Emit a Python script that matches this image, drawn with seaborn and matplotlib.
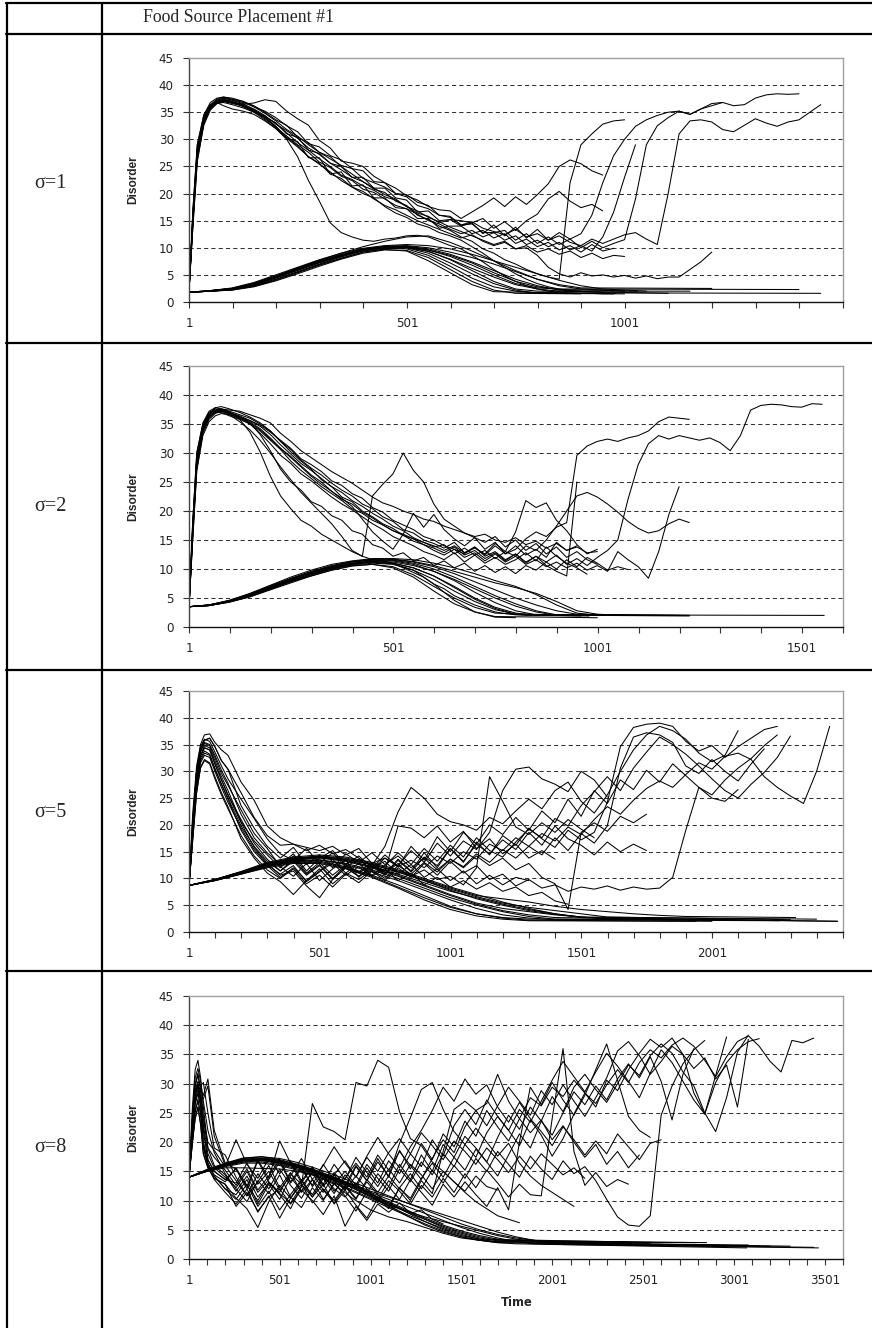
import matplotlib
matplotlib.use("Agg")
import matplotlib.pyplot as plt
import pandas as pd
import seaborn as sns
from matplotlib.lines import Line2D

# ---------------- DATA ----------------
TITLE = "Food Source Placement #1"
ROW_LABELS = ["σ=1", "σ=2", "σ=5", "σ=8"]
X_MAX = [1501, 1601, 2501, 3601]
Y_TICKS = [0, 5, 10, 15, 20, 25, 30, 35, 40, 45]
X_LABEL = "Time"
Y_LABEL = "Disorder"

# ---- panel 1 (sigma = 1) ----
PEAK_T1 = [1, 10, 20, 35, 50, 65, 80, 100] + list(range(125, 1476, 25))
PEAK_Y1 = [
    [2.0, 16, 28, 34, 36.3, 37.0, 37.2, 36.8,
     36.5, 36.7, 37.3, 37.0, 35.2, 33.8, 32.6, 29.8, 28.4, 26.0,
     25.6, 25.0, 23.2, 22.0, 21.0, 19.6, 18.8, 17.6, 17.0, 16.8,
     15.4, 16.6, 17.8, 19.2, 17.6, 19.4, 18.0, 19.8, 21.8, 25.0,
     26.2, 25.5, 24.2, 23.4],
    [2.0, 15, 27, 33.5, 36, 37.2, 37.6, 37.3,
     36.8, 36.0, 35.2, 34.0, 32.5, 31.4, 29.2, 28.6, 27.0, 26.2,
     24.6, 24.2, 22.2, 22.0, 20.0, 19.8, 18.4, 17.8, 16.0, 15.8,
     14.2, 14.4, 12.8, 12.8, 13.2, 11.4, 12.6, 10.8, 12.0, 10.6,
     11.6, 10.0, 11.2, 10.0, 10.8, 11.5, 19.0, 29.0, 32.5, 34.0,
     35.2, 34.6, 35.6, 36.6, 36.8, 36.2, 36.4, 37.6, 38.2, 38.4, 38.3, 38.4],
    [2.0, 17, 29, 34.5, 36.8, 37.6, 37.8, 37.4,
     37.0, 36.2, 35.0, 33.6, 32.6, 30.4, 29.4, 27.6, 26.4, 25.2,
     24.6, 22.8, 22.0, 21.2, 20.0, 19.4, 17.8, 17.2, 16.0, 15.6,
     14.2, 14.8, 13.6, 13.0, 12.4, 13.4, 12.0, 12.6, 11.4, 12.2,
     11.0, 10.4, 11.6, 10.8, 11.6, 12.4, 12.8, 11.6, 10.6, 20.0,
     31.0, 33.4, 33.6, 33.2, 31.8, 31.4, 32.6, 33.8, 33.0, 32.4, 33.2, 33.6, 35.0, 36.4],
    [2.0, 14, 26, 33, 35.8, 36.8, 37.0, 36.6,
     36.2, 35.4, 34.2, 33.0, 31.0, 30.4, 28.0, 27.4, 25.6, 25.0,
     23.0, 23.0, 21.0, 21.0, 19.2, 18.8, 16.6, 16.8, 15.0, 15.2,
     15.0, 14.6, 12.6, 14.2, 12.2, 13.8, 11.8, 13.4, 11.4, 12.8,
     11.6, 12.6, 16.0, 22.0, 27.0, 30.0, 32.4, 33.6, 34.4, 35.0,
     35.2, 34.6, 35.6, 36.2, 36.8],
    [2.0, 16, 28, 34, 36.4, 37.4, 37.8, 37.6,
     37.0, 36.0, 34.8, 33.4, 31.8, 30.6, 29.0, 27.6, 26.8, 25.0,
     23.6, 22.2, 20.8, 20.2, 18.6, 17.8, 16.0, 15.2, 14.0, 13.2,
     12.0, 11.2, 9.8, 9.0, 7.8, 7.0, 6.0, 5.2, 4.6, 4.2,
     22.0, 29.0, 31.0, 32.8, 33.4, 33.6],
    [2.0, 15, 27, 33, 35.6, 36.6, 36.8, 36.4,
     35.8, 35.0, 34.2, 33.0, 31.2, 29.4, 28.0, 26.4, 25.0, 23.4,
     22.6, 21.4, 20.6, 19.4, 18.8, 17.6, 16.4, 15.8, 14.6, 15.2,
     14.0, 14.6, 15.4, 13.6, 14.8, 13.2, 15.0, 16.2, 19.0, 20.4,
     18.6, 17.4, 18.0, 16.8],
    [2.0, 17, 29, 34.5, 36.4, 36.8, 36.2, 35.6,
     35.2, 34.6, 33.4, 32.0, 30.0, 26.8, 22.4, 18.6, 14.6, 12.8,
     12.0, 11.4, 11.2, 11.6, 11.8, 12.2, 12.3, 12.0, 11.2, 10.4,
     9.8, 8.6, 7.4, 6.0, 4.8, 3.8, 3.0, 2.4, 2.0, 1.8,
     1.7, 1.6, 1.6, 1.5, 1.5],
    [2.0, 15, 27, 33.4, 35.8, 36.8, 37.2, 37.0,
     36.4, 35.6, 34.4, 32.8, 31.6, 30.2, 28.4, 27.2, 25.6, 24.4,
     23.0, 22.2, 21.0, 19.8, 19.0, 17.6, 16.8, 15.6, 14.8, 13.8,
     13.0, 12.2, 11.4, 10.6, 11.2, 9.8, 10.0, 8.6, 6.4, 5.2,
     4.6, 5.4, 4.8, 5.0, 4.6, 4.9, 4.4, 4.8, 4.3, 4.6,
     4.6, 6.0, 7.4, 9.2],
    [2.0, 16, 28, 33.8, 36.0, 37.0, 37.4, 37.0,
     36.2, 35.2, 33.8, 32.4, 30.2, 29.6, 26.6, 26.6, 23.6, 24.0,
     21.4, 21.6, 19.2, 19.2, 17.4, 17.2, 15.4, 15.4, 13.6, 14.0,
     14.0, 12.6, 13.2, 11.8, 12.6, 10.8, 11.6, 10.2, 11.0, 9.6,
     10.4, 9.2, 10.6, 9.4, 9.9],
    [2.0, 14, 26, 32.6, 35.4, 36.6, 37.0, 36.8,
     36.0, 35.2, 34.0, 32.2, 30.6, 29.0, 27.6, 25.8, 24.8, 23.2,
     22.4, 20.8, 20.2, 19.0, 17.8, 17.2, 16.2, 15.0, 14.4, 13.4,
     12.6, 13.2, 12.0, 12.8, 11.4, 12.2, 10.6, 11.4, 10.2, 11.0,
     9.6, 10.4, 9.4, 12.0, 16.6, 23.0, 29.0],
    [2.0, 15, 27, 33, 35.8, 36.8, 37.2, 36.8,
     36.2, 35.0, 33.6, 32.0, 30.2, 28.6, 26.8, 25.6, 23.6, 22.8,
     21.2, 20.4, 19.0, 17.8, 17.0, 16.0, 15.0, 14.2, 13.4, 12.6,
     11.8, 12.4, 11.2, 10.4, 11.0, 9.8, 10.4, 9.2, 9.8, 8.8,
     9.4, 8.2, 9.0, 8.0, 8.6, 8.4],
    [2.0, 16, 28, 34, 36.2, 37.2, 37.6, 37.2,
     36.6, 35.4, 34.2, 32.4, 30.4, 28.8, 26.8, 25.4, 24.0, 22.4,
     21.2, 20.0, 19.2, 17.6, 16.4, 15.6, 14.4, 13.8, 12.8, 12.2,
     11.4, 10.2, 9.0, 7.6, 6.4, 5.2, 4.2, 3.4, 2.8, 2.4, 2.1, 2.0],
]
HUMP_T1 = [1, 50, 100, 150, 200, 250, 300, 350, 400, 450, 500,
           550, 600, 650, 700, 750, 800, 850, 900, 950, 1000]
HUMP_Y1 = [
    [1.8, 2.0, 2.3, 3.0, 4.2, 5.6, 7.0, 8.3, 9.4, 9.9, 9.8, 8.6, 6.6, 4.4, 2.8, 2.0, 1.7],
    [1.8, 2.0, 2.4, 3.2, 4.6, 6.0, 7.4, 8.6, 9.6, 10.1, 10.2, 9.6, 8.4, 6.8, 5.0, 3.4, 2.6, 2.4],
    [1.8, 2.1, 2.5, 3.4, 4.8, 6.2, 7.6, 8.8, 9.8, 10.3, 10.4, 10.0, 9.2, 8.2, 7.0, 5.6, 4.2, 3.2, 2.6],
    [1.8, 2.0, 2.2, 2.9, 4.0, 5.4, 6.8, 8.0, 9.2, 9.8, 10.0, 9.4, 7.8, 5.8, 3.8, 2.4, 2.0],
    [1.8, 2.1, 2.6, 3.6, 5.0, 6.4, 7.8, 9.0, 9.9, 10.4, 10.6, 10.4, 9.8, 8.8, 7.6, 6.4, 5.2, 4.0, 3.0, 2.4],
    [1.8, 2.0, 2.3, 3.1, 4.4, 5.8, 7.2, 8.4, 9.5, 10.0, 10.0, 9.0, 7.2, 5.2, 3.4, 2.2, 1.6],
    [1.8, 2.0, 2.4, 3.3, 4.6, 6.0, 7.3, 8.5, 9.6, 10.2, 10.3, 9.8, 8.8, 7.4, 5.8, 4.2, 3.0, 2.2],
    [1.8, 2.0, 2.2, 2.8, 3.9, 5.2, 6.6, 7.9, 9.0, 9.6, 9.5, 8.2, 6.0, 3.8, 2.2, 1.6],
    [1.8, 2.1, 2.5, 3.4, 4.7, 6.1, 7.5, 8.7, 9.7, 10.2, 10.2, 9.6, 8.6, 7.2, 5.4, 3.8, 2.8, 2.3],
    [1.8, 2.0, 2.3, 3.0, 4.2, 5.5, 6.9, 8.1, 9.2, 9.7, 9.4, 7.6, 5.4, 3.2, 1.9],
    [1.8, 2.0, 2.4, 3.2, 4.5, 5.9, 7.3, 8.6, 9.6, 10.1, 10.1, 9.3, 7.9, 6.2, 4.6, 3.2, 2.4, 2.0],
    [1.8, 2.1, 2.5, 3.5, 4.8, 6.3, 7.7, 9.0, 10.2, 11.2, 12.0, 12.2, 11.0, 9.4, 7.6, 5.8, 4.2, 3.0, 2.4],
]
HUMP_END1 = [(1450, 1.6), (1400, 2.3), (1200, 2.5), (1150, 2.0), (1050, 2.0), (1000, 1.5),
              (980, 1.6), (900, 1.5), (1030, 2.0), (850, 1.7), (1100, 1.6), (1000, 2.0)]

# ---- panel 2 (sigma = 2) ----
PEAK_T2 = [1, 10, 20, 35, 50, 65, 80, 100] + list(range(125, 1576, 25))
PEAK_Y2 = [
    [3.5, 18, 30, 35, 37, 37.6, 37.4, 36.8,
     36.2, 35.6, 34.8, 33.6, 32.2, 30.8, 29.0, 28.0, 26.8, 25.2,
     24.4, 23.0, 22.2, 20.6, 19.8, 18.4, 17.6, 16.8, 15.6, 15.0,
     14.0, 13.4, 12.6, 13.8, 12.2, 13.0, 11.6, 12.6, 11.0, 12.2,
     11.2, 12.4, 10.8, 11.8, 10.6, 12.0, 13.2, 15.0, 22.0, 28.0,
     31.6, 33.0, 32.4, 33.0, 32.6, 32.2, 32.6, 31.8, 30.4, 33.0,
     37.4, 38.2, 38.4, 38.3, 38.0, 37.9, 38.5, 38.4],
    [3.5, 17, 29, 34.6, 36.6, 37.4, 37.6, 37.2,
     36.6, 36.0, 35.0, 33.8, 32.0, 30.6, 28.8, 27.4, 26.2, 24.8,
     23.6, 22.6, 21.2, 20.4, 19.0, 18.2, 16.8, 16.2, 15.0, 14.4,
     13.6, 14.6, 12.8, 13.8, 12.4, 14.0, 12.6, 13.4, 15.2, 16.4,
     15.6, 17.2, 18.0, 29.6, 31.2, 32.0, 32.4, 32.0, 32.6, 33.0,
     33.8, 35.4, 36.2, 36.0, 35.8],
    [3.5, 16, 28, 34, 36.2, 37.0, 37.2, 36.8,
     36.0, 35.2, 34.0, 32.4, 30.8, 29.2, 27.6, 26.0, 24.6, 23.4,
     22.0, 21.2, 19.8, 18.8, 17.6, 16.6, 15.8, 14.8, 14.2, 13.2,
     12.4, 13.4, 12.0, 12.8, 11.4, 12.6, 11.2, 12.2, 10.8, 11.6,
     10.4, 11.2, 10.2, 11.0, 9.8, 10.6, 9.6, 13.0, 11.6, 10.4,
     8.4, 13.0, 19.4, 24.2],
    [3.5, 17, 29, 34.4, 36.4, 37.2, 37.4, 37.0,
     36.4, 35.6, 34.6, 33.2, 31.4, 29.8, 28.2, 27.0, 25.6, 24.2,
     23.2, 21.8, 20.8, 19.6, 18.6, 17.4, 16.6, 15.4, 14.6, 13.8,
     14.2, 12.6, 13.6, 12.4, 13.2, 11.8, 13.0, 12.2, 14.0, 13.2,
     15.0, 17.4, 20.0, 22.6, 23.2, 22.4, 21.2, 19.8, 18.2, 17.0,
     16.2, 16.6, 17.8, 18.6, 18.0],
    [3.5, 15, 27, 33.4, 35.8, 36.8, 37.2, 37.0,
     36.2, 35.0, 33.4, 31.6, 29.6, 28.2, 26.4, 25.2, 23.8, 22.4,
     21.2, 20.2, 19.0, 17.8, 16.8, 15.6, 14.8, 14.0, 13.0, 12.4,
     11.6, 12.8, 11.2, 12.4, 11.0, 12.0, 10.8, 11.6, 12.8, 11.4,
     13.8, 12.2, 11.0, 10.2, 9.1],
    [3.5, 16, 28, 34.2, 36.6, 37.8, 38.0, 37.6,
     37.0, 36.2, 35.2, 33.8, 32.0, 30.2, 28.6, 27.2, 25.4, 24.2,
     22.4, 21.6, 20.0, 19.0, 17.8, 17.0, 15.8, 15.2, 14.2, 13.6,
     12.8, 13.8, 12.4, 13.2, 11.8, 12.8, 11.4, 12.6, 11.2, 12.2,
     10.6, 9.6, 8.8, 25.0],
    [3.5, 17, 29, 34.8, 36.8, 37.4, 37.2, 36.6,
     35.4, 34.0, 32.2, 30.0, 27.6, 25.4, 23.2, 21.4, 19.6, 17.8,
     15.6, 13.2, 12.2, 22.6, 24.6, 26.4, 30.0, 27.0, 25.0, 21.2,
     18.6, 17.4, 16.2, 15.4, 14.6, 15.6, 13.8, 15.0, 13.2, 14.4,
     12.6, 13.8, 12.0, 13.0, 11.6, 10.8],
    [3.5, 16, 28, 33.8, 36.0, 37.0, 37.4, 37.0,
     36.2, 35.4, 34.2, 32.6, 30.8, 29.4, 27.8, 26.2, 25.0, 23.4,
     22.2, 20.8, 18.6, 16.4, 14.8, 13.4, 16.0, 19.6, 17.2, 19.4,
     16.8, 15.2, 14.0, 15.4, 13.4, 14.6, 12.6, 14.0, 12.4, 13.4,
     12.0, 14.6, 13.2, 14.0],
    [3.5, 15, 27, 33, 35.4, 36.4, 36.8, 36.6,
     36.0, 35.2, 33.2, 30.4, 27.2, 25.0, 23.6, 21.6, 20.8, 19.2,
     18.4, 16.6, 16.0, 14.2, 13.6, 12.2, 12.8, 11.4, 12.0, 10.6,
     11.4, 10.2, 11.0, 9.6, 10.6, 9.4, 10.4, 9.2, 10.6, 9.8,
     11.2, 10.0, 11.6, 10.4, 12.0, 11.0, 9.8, 10.4, 9.9],
    [3.5, 18, 30, 35.2, 37.2, 37.8, 37.6, 37.0,
     35.8, 33.6, 30.2, 26.0, 22.6, 20.4, 18.4, 17.4, 16.0, 15.0,
     14.0, 13.0, 12.2, 11.6, 11.4, 11.0, 10.2, 9.4, 8.6, 7.4,
     6.6, 5.4, 4.6, 3.8, 3.2, 2.6, 2.3, 2.1, 2.0, 2.0],
    [3.5, 16, 28, 34, 36.2, 37.2, 37.6, 37.4,
     37.2, 36.6, 36.0, 35.2, 33.4, 32.0, 30.4, 29.2, 28.0, 26.8,
     25.8, 24.8, 23.6, 22.4, 21.4, 20.8, 20.0, 19.4, 18.6, 18.2,
     17.4, 16.8, 16.2, 15.6, 16.0, 15.0, 14.6, 15.4, 14.2, 14.8,
     13.6, 14.4, 13.2, 13.8, 12.8, 13.0],
    [3.5, 17, 29, 34.4, 36.4, 37.0, 37.0, 36.4,
     35.8, 35.0, 33.8, 32.2, 30.6, 28.6, 27.0, 25.6, 24.2, 23.0,
     21.8, 20.4, 19.6, 18.4, 17.6, 16.6, 16.0, 15.2, 14.6, 14.0,
     13.2, 14.0, 12.8, 13.6, 12.6, 14.4, 13.0, 16.4, 21.8, 20.6,
     21.4, 18.4, 16.6, 14.2, 12.6, 13.4],
]
HUMP_T2 = [1, 50, 100, 150, 200, 250, 300, 350, 400, 450, 500,
           550, 600, 650, 700, 750, 800, 850, 900, 950, 1000]
HUMP_Y2 = [
    [3.5, 3.7, 4.4, 5.4, 6.8, 8.0, 9.2, 10.2, 11.0, 11.4, 11.4, 10.8, 9.6, 8.0, 6.0, 4.2, 2.8, 2.1],
    [3.5, 3.8, 4.5, 5.6, 7.0, 8.2, 9.4, 10.4, 11.2, 11.6, 11.6, 11.2, 10.4, 9.2, 7.8, 6.4, 5.0, 3.8, 2.8, 2.2],
    [3.5, 3.7, 4.3, 5.2, 6.5, 7.8, 9.0, 10.0, 10.7, 11.0, 10.8, 9.8, 8.2, 6.2, 4.4, 3.0, 2.2],
    [3.5, 3.8, 4.6, 5.8, 7.2, 8.6, 9.8, 10.8, 11.4, 11.8, 11.8, 11.6, 11.0, 10.2, 9.2, 8.0, 7.0, 5.6, 3.8, 2.4, 2.0],
    [3.5, 3.7, 4.4, 5.4, 6.6, 7.8, 8.8, 9.8, 10.6, 10.8, 10.2, 8.6, 6.2, 4.0, 2.6, 1.8],
    [3.5, 3.7, 4.3, 5.3, 6.6, 7.9, 9.0, 10.0, 10.8, 11.2, 11.0, 10.2, 8.8, 7.0, 5.0, 3.4, 2.4, 2.0],
    [3.5, 3.8, 4.5, 5.6, 6.9, 8.2, 9.4, 10.3, 11.0, 11.3, 11.2, 10.6, 9.6, 8.2, 6.6, 5.0, 3.6, 2.6, 2.0],
    [3.5, 3.7, 4.4, 5.5, 6.8, 8.0, 9.2, 10.2, 10.9, 11.2, 10.9, 9.8, 7.4, 4.6, 2.6, 1.7],
    [3.5, 3.8, 4.5, 5.6, 7.0, 8.3, 9.5, 10.5, 11.2, 11.5, 11.5, 11.0, 10.0, 8.6, 7.0, 5.4, 4.0, 2.8, 2.1],
    [3.5, 3.7, 4.3, 5.2, 6.4, 7.6, 8.8, 9.8, 10.5, 10.8, 10.4, 9.0, 7.0, 5.0, 3.4, 2.4],
    [3.5, 3.8, 4.6, 5.7, 7.1, 8.4, 9.6, 10.6, 11.3, 11.7, 11.7, 11.3, 10.6, 9.6, 8.6, 7.6, 6.8, 5.8, 4.4, 2.8, 2.2],
    [3.5, 3.7, 4.4, 5.4, 6.7, 8.0, 9.1, 10.1, 10.9, 11.2, 11.0, 10.2, 8.8, 6.8, 4.8, 3.2, 2.2],
]
HUMP_END2 = [(1555, 2.0), (1225, 2.0), (1200, 2.0), (1225, 1.9), (1000, 1.6), (980, 1.9),
             (960, 1.9), (800, 1.6), (1075, 2.0), (880, 2.0), (1060, 2.0), (1000, 2.0)]

# ---- panel 3 (sigma = 5) ----
PEAK_T3 = [1, 15, 30, 45, 60, 80, 100, 125] + list(range(150, 2501, 50))
PEAK_Y3 = [
    [8.7, 22, 31, 35.0, 36.8, 37.0, 35.4, 34.0, 33.0,
     28.0, 24.6, 19.8, 17.6, 16.4, 15.8, 15.2, 16.0, 14.4, 15.6,
     12.8, 13.8, 12.2, 13.4, 12.0, 14.2, 12.8, 15.0, 13.6, 16.4,
     15.2, 17.6, 16.0, 18.4, 17.0, 19.6, 18.2, 21.0, 23.4, 22.0,
     24.6, 26.8, 28.2, 27.0, 29.4, 31.6, 30.4, 32.8, 33.4, 32.2,
     29.0, 27.0, 25.4, 24.0, 30.0, 38.4],
    [8.7, 20, 30, 34.2, 35.8, 36.2, 34.6, 32.0, 30.4,
     26.0, 21.4, 18.0, 16.2, 16.4, 15.2, 16.2, 14.6, 15.4, 13.8,
     12.4, 16.0, 22.4, 27.0, 25.0, 22.0, 20.6, 20.0, 19.0, 21.4,
     20.2, 22.6, 24.8, 23.0, 26.4, 28.0, 24.4, 22.2, 25.6, 30.0,
     34.0, 36.8, 38.4, 37.6, 36.0, 33.4, 31.8, 33.0, 37.6],
    [8.7, 19, 29, 33.6, 35.2, 34.8, 32.6, 29.6, 27.4,
     22.8, 18.4, 15.6, 12.2, 10.4, 12.8, 9.6, 11.8, 13.4, 10.2,
     12.6, 10.8, 13.6, 11.4, 14.8, 12.0, 15.6, 13.0, 16.8, 14.4,
     18.0, 16.2, 19.4, 17.4, 15.8, 19.0, 17.2, 18.6, 24.2, 34.6,
     38.2, 38.8, 39.0, 38.4, 35.6, 33.8, 34.8, 32.6, 34.6, 36.2, 37.8, 38.4],
    [8.7, 18, 28, 32.8, 34.4, 34.0, 31.4, 28.4, 25.6,
     21.0, 16.6, 13.6, 11.4, 13.2, 10.6, 12.4, 9.8, 12.0, 10.4,
     11.8, 14.4, 12.2, 16.0, 13.4, 17.8, 15.0, 18.6, 16.4, 20.0,
     18.2, 21.4, 19.0, 22.6, 20.4, 24.8, 21.6, 26.4, 24.0, 28.4,
     26.6, 30.2, 28.0, 31.4, 29.2, 27.0, 25.6, 28.4, 30.6, 32.4, 34.8, 36.8],
    [8.7, 18, 27, 31.6, 33.0, 32.6, 30.0, 27.0, 24.2,
     19.4, 15.4, 12.6, 10.8, 12.4, 9.4, 11.2, 13.6, 11.0, 12.8,
     10.6, 12.4, 14.8, 12.6, 15.6, 13.2, 16.2, 14.0, 17.6, 15.2,
     14.0, 16.8, 19.2, 17.6, 21.2, 19.8, 23.6, 26.2, 29.0, 26.4,
     30.6, 33.6, 36.4, 35.0, 33.2, 31.0, 28.6, 26.4, 25.0, 27.6, 29.8, 32.6, 36.6],
    [8.7, 17, 26, 30.6, 32.0, 31.4, 28.6, 25.6, 23.0,
     18.0, 14.2, 11.6, 10.0, 11.8, 9.0, 10.6, 8.4, 10.8, 9.2,
     11.4, 9.6, 12.0, 10.2, 12.8, 10.6, 13.2, 11.0, 12.4, 9.8,
     10.8, 8.6, 9.8, 8.2, 8.8, 7.6, 8.4, 8.0, 8.6, 7.8,
     8.4, 8.0, 8.2, 10.2, 19.0, 27.0, 25.0, 24.4, 26.6],
    [8.7, 19, 29, 33.0, 34.8, 34.4, 32.0, 29.0, 26.4,
     20.6, 17.0, 14.4, 12.0, 14.2, 11.0, 13.0, 10.6, 12.6, 11.2,
     13.0, 11.0, 12.8, 10.4, 11.6, 9.8, 10.4, 8.8, 12.0, 29.0,
     24.4, 19.6, 18.2, 20.4, 18.6, 21.0, 19.2, 17.6],
    [8.7, 21, 30, 34.6, 36.0, 35.6, 33.6, 31.0, 28.6,
     24.8, 21.2, 17.4, 14.6, 13.4, 15.6, 12.8, 14.8, 12.2, 13.6,
     11.6, 13.8, 12.4, 15.2, 13.0, 16.6, 14.2, 17.0, 15.4, 18.6,
     26.4, 30.4, 30.8, 28.6, 27.6, 26.2, 30.0, 28.4, 25.2],
    [8.7, 18, 27, 32.0, 33.4, 33.0, 30.4, 27.6, 25.0,
     19.8, 16.0, 13.2, 11.4, 13.6, 10.8, 12.6, 10.0, 12.4, 11.0,
     12.6, 11.4, 19.8, 19.4, 17.6, 19.8, 16.8, 18.8, 15.6, 17.4,
     14.6, 16.4, 13.8, 15.2, 13.6],
    [8.7, 17, 26, 30.8, 32.2, 31.6, 29.0, 26.0, 23.4,
     17.4, 13.8, 11.0, 9.4, 7.0, 9.6, 11.8, 9.0, 11.0, 9.8,
     11.6, 10.0, 12.4, 10.8, 13.0, 11.2, 13.6, 12.0, 14.2, 12.4,
     13.8, 11.6, 12.8, 10.2, 9.0, 4.2, 18.6, 20.4, 18.8, 21.6,
     20.4, 22.0],
    [8.7, 20, 30, 33.8, 35.4, 35.0, 33.0, 30.2, 27.8,
     22.0, 17.6, 14.8, 12.6, 14.6, 11.4, 13.8, 15.2, 12.6, 14.2,
     12.0, 13.2, 10.8, 12.6, 10.2, 11.8, 9.6, 11.4, 9.0, 10.6,
     8.8, 10.2, 9.6],
    [8.7, 18, 28, 32.8, 34.4, 34.0, 31.4, 28.4, 25.6,
     20.4, 15.8, 12.8, 10.6, 11.4, 8.6, 6.4, 9.8, 12.0, 10.4,
     12.2, 10.6, 13.4, 11.2, 14.0, 12.4, 15.6, 13.2, 16.4, 14.6,
     17.2, 15.4, 18.6, 16.2, 19.8, 17.4, 16.2, 14.4, 16.8, 15.0,
     16.4, 15.2],
    [8.7, 18, 28, 32.4, 33.8, 33.2, 30.6, 27.6, 24.8,
     19.0, 15.0, 12.4, 10.2, 12.0, 9.6, 11.4, 12.8, 10.6, 12.2,
     10.4, 11.8, 9.6, 11.0, 8.8, 10.2, 8.4, 9.6, 8.0, 9.2,
     7.6, 8.4, 6.8, 7.4, 5.8, 5.2],
    [8.7, 20, 30, 34.2, 35.8, 36.2, 34.6, 32.0, 30.4,
     23.6, 19.4, 16.0, 13.8, 15.8, 12.6, 14.4, 12.0, 14.6, 13.0,
     14.8, 12.6, 14.2, 12.0, 13.8, 11.6, 13.6, 12.2, 14.6, 13.0,
     15.4, 13.8, 16.0, 14.4, 17.6, 15.2, 18.4, 16.6, 19.8, 30.6,
     36.4, 37.2, 36.8, 35.4, 31.0, 29.6, 32.2, 30.0, 28.2, 31.4, 34.2],
]
HUMP_T3 = [1, 100, 200, 300, 400, 500, 600, 700, 800, 900, 1000,
           1100, 1200, 1300, 1400, 1500, 1600, 1700, 1800, 1900, 2000]
HUMP_Y3 = [
    [8.7, 9.7, 11.0, 12.4, 13.4, 13.8, 13.2, 12.0, 10.4, 8.6, 6.8, 5.2, 4.0, 3.2, 2.7],
    [8.7, 9.8, 11.2, 12.8, 13.8, 14.2, 13.8, 12.8, 11.4, 9.8, 8.2, 6.8, 6.2, 5.6, 4.8, 4.2, 3.8, 3.4, 3.1, 2.9],
    [8.7, 9.6, 10.8, 12.2, 13.2, 13.4, 12.6, 11.2, 9.6, 7.8, 6.0, 4.4, 3.2, 2.6, 2.3],
    [8.7, 9.7, 11.1, 12.6, 13.6, 14.0, 13.4, 12.2, 10.8, 9.2, 7.6, 6.4, 5.2, 4.2, 3.4, 2.8, 2.4],
    [8.7, 9.8, 11.3, 13.0, 14.0, 14.4, 14.0, 13.0, 11.6, 10.0, 8.4, 7.0, 5.6, 4.4, 3.4, 2.7],
    [8.7, 9.6, 10.9, 12.3, 13.2, 13.2, 12.2, 10.6, 8.8, 6.8, 4.8, 3.4, 2.6, 2.2],
    [8.7, 9.7, 11.0, 12.5, 13.5, 13.9, 13.4, 12.2, 10.6, 8.8, 7.0, 5.4, 4.4, 3.8, 3.2, 2.8, 2.5],
    [8.7, 9.6, 10.8, 12.0, 12.8, 12.8, 11.8, 10.2, 8.2, 6.0, 4.2, 3.0, 2.4, 2.1],
    [8.7, 9.8, 11.2, 12.8, 13.8, 14.1, 13.6, 12.6, 11.2, 9.6, 8.0, 6.6, 5.4, 4.6, 4.0, 3.4, 2.8],
    [8.7, 9.7, 11.0, 12.4, 13.3, 13.5, 12.8, 11.6, 10.0, 8.2, 6.4, 5.0, 3.8, 2.9, 2.4],
    [8.7, 9.6, 10.9, 12.2, 13.0, 13.0, 12.0, 10.4, 8.4, 6.4, 4.6, 3.4, 2.7, 2.4],
    [8.7, 9.8, 11.2, 12.7, 13.7, 14.0, 13.6, 12.6, 11.2, 9.6, 7.8, 6.2, 5.0, 4.0, 3.3, 2.8],
]
HUMP_END3 = [(2480, 2.0), (2320, 2.7), (2257, 2.1), (2200, 2.2), (2130, 2.2), (2000, 2.0),
             (2480, 2.0), (1939, 2.0), (2300, 2.3), (2100, 2.2), (1850, 2.3), (2400, 2.4)]

# ---- panel 4 (sigma = 8) ----
PEAK_T4 = [1, 20, 35, 50, 65, 80, 105, 140] + list(range(200, 3441, 60))
PEAK_Y4 = [
    [14, 21, 26.6, 28.4, 26.2, 20.0, 16.4, 14.2, 12.0,
     11.0, 13.6, 9.4, 12.8, 10.2, 14.0, 11.6, 15.2, 12.4, 14.8,
     12.6, 16.0, 13.4, 17.2, 14.0, 18.6, 15.4, 19.8, 17.0, 21.4,
     19.2, 23.6, 21.0, 25.4, 22.6, 20.2, 24.0, 27.6, 26.2, 29.4,
     27.8, 30.6, 28.4, 26.6, 29.8, 32.4, 30.2, 33.6, 35.8, 34.4,
     36.6, 37.8, 36.4, 34.0, 31.2, 34.6, 37.2, 38.2, 36.4, 33.8,
     32.0, 37.4, 37.0, 37.8],
    [14, 22, 28.0, 29.6, 27.4, 22.0, 17.0, 15.0, 13.6,
     15.4, 12.0, 16.8, 13.2, 11.4, 14.6, 12.8, 10.6, 13.8, 11.2,
     14.4, 12.2, 15.6, 13.0, 16.8, 14.6, 18.0, 15.8, 20.4, 17.6,
     22.8, 25.6, 23.0, 27.2, 24.4, 22.0, 19.4, 23.8, 21.2, 17.6,
     20.6, 24.8, 28.4, 26.0, 30.6, 28.8, 32.4, 35.2, 37.6, 36.2,
     37.8, 35.0, 28.4, 24.8, 30.2, 33.6, 35.8, 37.2, 37.7],
    [14, 20, 24.0, 26.0, 23.0, 18.0, 15.6, 13.8, 12.8,
     10.4, 8.6, 5.4, 9.8, 12.6, 10.4, 13.4, 11.0, 14.2, 12.0,
     10.6, 13.0, 11.2, 14.6, 12.4, 16.2, 13.6, 17.8, 15.0, 19.6,
     17.4, 21.0, 19.0, 16.6, 20.8, 24.6, 22.2, 26.0, 23.6, 27.8,
     25.2, 29.4, 31.6, 29.0, 26.8, 30.0, 33.2, 31.4, 34.8, 36.8,
     35.2, 32.0, 29.6, 25.0, 21.8, 27.6, 35.4, 38.3],
    [14, 26, 32.4, 34.0, 31.0, 26.0, 19.0, 17.4, 15.2,
     12.6, 15.4, 11.8, 14.2, 17.0, 13.2, 15.8, 12.4, 14.6, 11.6,
     13.8, 16.4, 14.0, 17.8, 15.2, 18.4, 16.0, 13.6, 17.2, 20.4,
     18.2, 22.6, 25.4, 22.8, 26.2, 29.4, 27.0, 24.6, 28.8, 26.4,
     29.8, 27.0, 24.4, 27.6, 31.0, 35.6, 37.2, 34.8, 31.6, 33.8,
     36.4, 35.0, 32.6, 34.4, 30.8, 33.2, 26.0, 37.6],
    [14, 23, 29.0, 30.4, 29.6, 30.2, 25.0, 19.0, 17.8,
     14.0, 10.8, 13.2, 16.0, 12.2, 14.8, 11.4, 13.6, 10.2, 12.8,
     15.0, 12.6, 16.2, 13.8, 11.6, 15.4, 13.2, 16.6, 14.4, 18.0,
     15.8, 19.6, 17.4, 21.6, 24.4, 22.0, 25.6, 23.4, 27.0, 30.6,
     33.8, 31.2, 28.6, 32.0, 35.2, 33.0, 30.4, 27.6, 31.8, 35.8,
     33.6, 30.4, 27.2, 24.8, 31.4, 38.0],
    [14, 24, 29.6, 31.4, 29.0, 28.0, 30.8, 22.0, 16.4,
     15.4, 12.6, 10.0, 13.2, 11.0, 8.6, 12.4, 14.8, 11.8, 9.6,
     12.4, 10.2, 13.6, 11.4, 14.2, 12.0, 10.4, 13.8, 16.4, 14.0,
     17.4, 15.2, 18.8, 16.6, 14.2, 17.8, 21.4, 19.0, 23.6, 21.2,
     25.0, 28.6, 26.4, 29.6, 27.2, 30.8, 33.4, 31.0, 34.6, 30.4,
     23.8, 31.6, 36.0],
    [14, 20, 25.4, 27.0, 25.0, 19.4, 15.8, 13.6, 11.4,
     9.4, 12.0, 8.0, 10.8, 7.0, 10.4, 12.8, 9.6, 12.0, 10.0,
     12.6, 10.4, 13.2, 11.0, 9.0, 12.2, 14.6, 12.0, 15.2, 13.0,
     16.0, 13.8, 17.2, 15.0, 18.4, 16.2, 14.0, 17.6, 15.4, 13.6,
     16.8, 14.6, 15.8, 13.4, 10.2, 7.2, 5.8, 5.6, 7.4, 24.6,
     29.6, 33.4, 35.8, 37.4],
    [14, 22, 27.2, 29.0, 27.0, 23.0, 18.0, 15.6, 14.0,
     12.2, 15.0, 11.4, 13.6, 16.6, 13.0, 15.4, 12.6, 16.2, 13.4,
     11.8, 14.2, 12.0, 10.2, 13.4, 11.6, 9.4, 12.6, 10.6, 13.8,
     11.4, 14.6, 12.2, 15.2, 13.0, 10.6, 12.8, 11.0, 10.8, 24.0,
     36.0, 18.4, 12.6, 14.8, 12.4, 13.6, 12.8],
    [14, 25, 31.0, 32.6, 30.4, 27.0, 22.0, 18.2, 14.6,
     12.0, 9.8, 13.4, 11.2, 14.4, 10.6, 8.8, 12.2, 10.0, 13.0,
     10.8, 8.2, 11.6, 9.8, 12.4, 10.2, 13.6, 11.4, 9.2, 12.8,
     10.6, 13.2, 11.0, 9.0, 12.2, 8.4, 20.0, 29.4, 26.4, 30.2,
     27.2, 24.6, 28.0, 32.4, 36.8, 30.6, 24.4, 22.0, 20.8],
    [14, 21, 25.0, 27.4, 24.6, 19.0, 16.0, 14.4, 13.2,
     15.6, 12.4, 17.0, 13.8, 20.2, 16.4, 13.0, 15.8, 12.6, 14.4,
     16.8, 14.0, 17.4, 15.0, 18.2, 20.6, 18.0, 21.6, 19.4, 17.0,
     20.2, 18.4, 16.2, 19.0, 17.0, 14.8, 17.6, 15.4, 18.0, 16.2,
     14.4, 15.6, 13.8],
    [14, 22, 28.4, 30.0, 28.6, 24.0, 19.0, 16.0, 14.4,
     11.6, 14.2, 10.6, 13.0, 11.2, 9.6, 12.4, 26.6, 22.6, 21.8,
     20.4, 30.2, 29.6, 34.0, 32.8, 25.2, 20.6, 19.4, 16.6, 15.0,
     13.2, 11.4, 9.8, 8.6, 7.4, 6.8, 6.2],
    [14, 23, 28.2, 30.0, 27.6, 27.4, 29.6, 21.0, 16.0,
     13.4, 10.8, 14.6, 12.0, 15.4, 12.6, 10.4, 13.6, 11.4, 14.4,
     12.0, 15.8, 13.4, 16.6, 14.2, 19.8, 24.2, 29.0, 30.2, 25.6,
     21.8, 19.6, 22.4, 20.0, 17.6, 19.8, 16.4, 14.2, 12.6, 11.4,
     10.2, 9.0],
    [14, 22, 28.0, 29.6, 27.4, 22.0, 17.0, 15.0, 13.6,
     13.0, 16.4, 12.8, 15.0, 11.8, 14.2, 17.2, 13.6, 16.0, 19.2,
     16.4, 14.0, 17.6, 20.8, 18.0, 15.6, 19.2, 22.0, 25.4, 29.4,
     27.0, 30.8, 28.2, 29.8, 26.0, 23.4, 26.8, 24.0, 21.8, 19.4,
     22.6, 20.4, 17.8, 20.2, 18.0, 21.4, 19.2, 17.0, 19.8, 20.4],
    [14, 21, 26.6, 28.4, 26.2, 20.0, 16.4, 14.2, 12.0,
     10.2, 12.8, 9.0, 11.6, 8.4, 11.0, 13.6, 10.6, 12.8, 9.4,
     11.8, 9.2, 7.0, 10.4, 8.6, 12.2, 10.0, 13.4, 11.2, 18.4,
     25.6, 27.0, 25.4, 26.6, 31.6, 27.0, 24.0, 21.6, 23.8, 20.4,
     22.8, 20.0, 17.4, 19.6, 16.2, 18.4, 15.6, 17.8],
    [14, 20, 24.0, 26.0, 23.0, 18.0, 15.6, 13.8, 12.8,
     9.0, 11.4, 8.2, 10.6, 12.0, 9.4, 11.8, 10.0, 7.6, 10.8,
     5.6, 9.0, 6.6, 9.4, 8.0, 9.6, 7.8, 8.4, 6.8, 6.0],
    [14, 24, 30.0, 31.8, 29.0, 24.4, 20.0, 18.6, 15.8,
     20.4, 16.2, 13.8, 17.2, 14.6, 16.8, 13.4, 15.6, 12.8, 16.2,
     13.6, 17.4, 14.8, 12.4, 15.4, 13.0, 16.2, 14.4, 12.0, 15.0,
     13.2, 11.6, 14.2, 12.4, 11.8],
]
HUMP_T4 = [1, 100, 200, 300, 400, 500, 600, 700, 800, 900, 1000, 1100,
           1200, 1300, 1400, 1500, 1600, 1700, 1800, 1900, 2000, 2100, 2200]
HUMP_Y4 = [
    [14.0, 15.2, 16.2, 17.0, 17.2, 16.8, 16.0, 15.0, 13.8, 12.6, 11.2, 9.8, 8.4, 7.0, 5.8, 4.8, 4.0, 3.4, 3.0, 2.7, 2.5],
    [14.0, 15.0, 15.8, 16.4, 16.4, 16.0, 15.2, 14.2, 13.0, 11.6, 10.2, 8.8, 7.4, 6.0, 4.8, 3.8, 3.2, 2.8, 2.6],
    [14.0, 15.3, 16.4, 17.3, 17.5, 17.0, 16.2, 15.2, 14.0, 12.8, 11.6, 10.6, 9.6, 8.6, 7.6, 6.6, 5.6, 4.6, 3.8, 3.2, 2.8, 2.6],
    [14.0, 15.1, 16.0, 16.8, 17.0, 16.6, 15.8, 14.8, 13.6, 12.2, 10.6, 9.0, 7.6, 6.4, 5.2, 4.2, 3.4, 2.9],
    [14.0, 15.2, 16.2, 16.9, 16.9, 16.4, 15.6, 14.6, 13.4, 12.2, 10.8, 9.2, 7.4, 5.8, 4.6, 3.8, 3.2, 2.8],
    [14.0, 15.0, 15.6, 15.6, 15.5, 15.4, 15.0, 14.2, 12.8, 10.4, 8.4, 7.2, 6.4, 5.4, 4.4, 3.6, 3.2, 3.0],
    [14.0, 15.3, 16.3, 17.1, 17.3, 16.9, 16.1, 15.1, 13.9, 12.7, 11.4, 10.2, 9.0, 7.8, 6.6, 5.4, 4.4, 3.6, 3.0, 2.6],
    [14.0, 15.1, 16.0, 16.6, 16.6, 16.2, 15.4, 14.4, 13.2, 11.8, 10.4, 9.2, 8.2, 7.2, 6.4, 5.6, 4.8, 4.0, 3.4, 3.0, 2.7],
    [14.0, 15.2, 16.1, 16.8, 16.9, 16.5, 15.7, 14.7, 13.5, 12.2, 10.8, 9.4, 8.0, 6.8, 5.6, 4.6, 3.8, 3.2],
    [14.0, 15.0, 15.9, 16.6, 16.8, 16.5, 15.8, 14.9, 13.8, 12.6, 11.2, 9.6, 8.0, 6.4, 5.0, 4.0, 3.4],
    [14.0, 15.2, 16.3, 17.2, 17.5, 17.2, 16.5, 15.5, 14.4, 13.2, 12.0, 10.8, 9.6, 8.4, 7.2, 6.0, 5.0, 4.2, 3.6, 3.2, 2.9],
    [14.0, 15.1, 16.1, 16.9, 17.1, 16.7, 15.9, 14.9, 13.7, 12.4, 11.0, 9.6, 8.2, 6.8, 5.4, 4.4, 3.6, 3.1],
]
HUMP_END4 = [(3466, 1.9), (3071, 1.9), (3310, 2.2), (2795, 2.8), (3140, 2.2), (3200, 2.2),
             (3440, 2.0), (3080, 2.4), (2850, 2.8), (2600, 2.8), (2540, 2.7), (2420, 2.9)]

PANELS = [
    (PEAK_T1, PEAK_Y1, HUMP_T1, HUMP_Y1, HUMP_END1),
    (PEAK_T2, PEAK_Y2, HUMP_T2, HUMP_Y2, HUMP_END2),
    (PEAK_T3, PEAK_Y3, HUMP_T3, HUMP_Y3, HUMP_END3),
    (PEAK_T4, PEAK_Y4, HUMP_T4, HUMP_Y4, HUMP_END4),
]

# ---------------- LAYOUT ----------------
W, H = 872, 1328
sns.set_theme(style="white")
plt.rcParams["font.family"] = ["DejaVu Sans"]

fig = plt.figure(figsize=(W / 100, H / 100), dpi=100)
fig.patch.set_facecolor("white")


def fx(px):
    return px / W


def fy(py):
    return 1 - py / H


AX_L, AX_R = 189, 843
ROW_TOP = [58, 366, 691, 996]
ROW_BOT = [302, 627, 932, 1259]
ROW_LINES = [3, 34, 343, 670, 971]
LABEL_Y = [184, 506, 812, 1147]


def panel_frame(grid, peaks, hx, humps, ends):
    rows = []
    for i, ys in enumerate(peaks):
        for t, d in zip(grid, ys):
            rows.append(("p%d" % i, t, d))
    for i, (ys, end) in enumerate(zip(humps, ends)):
        for t, d in zip(hx, ys):
            rows.append(("h%d" % i, t, d))
        rows.append(("h%d" % i, end[0], end[1]))
    return pd.DataFrame(rows, columns=["run", "t", "d"])


for k, (grid, peaks, hx, humps, ends) in enumerate(PANELS):
    top, bot = ROW_TOP[k], ROW_BOT[k]
    ax = fig.add_axes([fx(AX_L), fy(bot), (AX_R - AX_L) / W, (bot - top) / H])
    ax.set_facecolor("white")
    for v in Y_TICKS[1:-1]:
        ax.axhline(v, color="#333333", lw=0.75, dashes=(4, 3), zorder=0)
    df = panel_frame(grid, peaks, hx, humps, ends)
    sns.lineplot(data=df, x="t", y="d", units="run", estimator=None,
                 color="black", linewidth=0.75, ax=ax, legend=False)
    xmax = X_MAX[k]
    ax.set_xlim(1, xmax)
    ax.set_ylim(0, 45)
    ax.set_yticks(Y_TICKS)
    ax.set_yticklabels([str(v) for v in Y_TICKS])
    xt = list(range(1, xmax + 1, 100))
    ax.set_xticks(xt)
    ax.set_xticklabels([str(t) if (t - 1) % 500 == 0 and t < xmax else "" for t in xt])
    ax.set_xlabel("")
    ax.set_ylabel("")
    ax.tick_params(axis="both", direction="out", length=4.5, width=0.8,
                   color="#333333", labelsize=8.6, pad=6.5, labelcolor="#222222",
                   bottom=True, left=True)
    for s in ["top", "right"]:
        ax.spines[s].set_color("#a0a0a0")
        ax.spines[s].set_linewidth(1.0)
    ax.spines["left"].set_color("#444444")
    ax.spines["bottom"].set_color("#111111")
    ax.spines["left"].set_linewidth(1.0)
    ax.spines["bottom"].set_linewidth(1.0)

    fig.text(fx(133), fy((top + bot) / 2), Y_LABEL, rotation=90, ha="center", va="center",
             fontsize=8.6, fontweight="bold",
             family=["Liberation Sans Narrow", "Liberation Sans", "DejaVu Sans"])
    fig.text(fx(50), fy(LABEL_Y[k]), ROW_LABELS[k], ha="center", va="center",
             fontsize=14.5, family=["Liberation Serif", "DejaVu Serif"])

fig.text(fx(517), fy(1303), X_LABEL, ha="center", va="center", fontsize=8.4, fontweight="bold")
fig.text(fx(143), fy(17), TITLE, ha="left", va="center", fontsize=12.8,
         family=["Liberation Serif", "DejaVu Serif"])

# table rules
for yy in ROW_LINES:
    fig.add_artist(Line2D([fx(6), 1.0], [fy(yy), fy(yy)], transform=fig.transFigure,
                          color="black", lw=1.6))
for xx in [7, 102]:
    fig.add_artist(Line2D([fx(xx), fx(xx)], [fy(3), 0.0], transform=fig.transFigure,
                          color="black", lw=1.6))

fig.savefig("out.png", dpi=100, facecolor="white")
